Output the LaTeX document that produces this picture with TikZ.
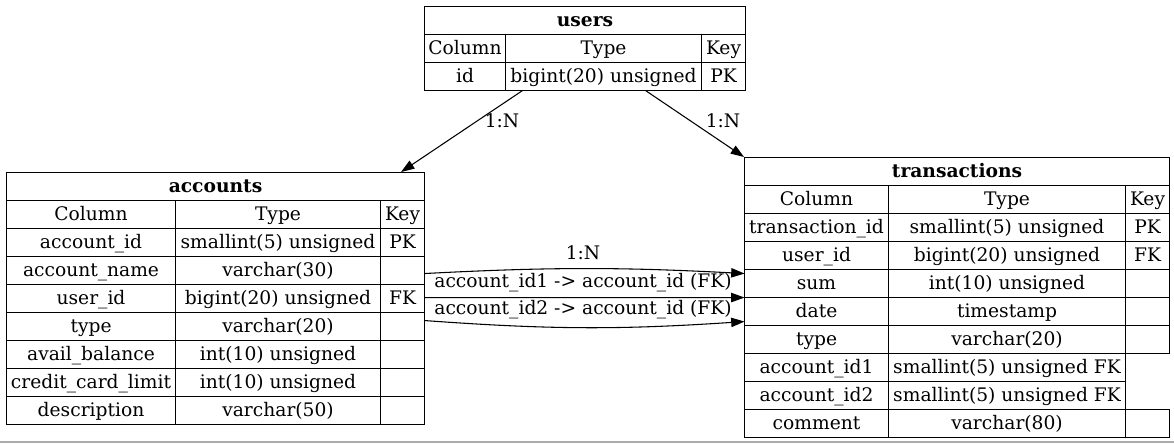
\documentclass[tikz,border=0pt]{standalone}
\usepackage{fontspec}
\setmainfont{DejaVu Serif}
\usetikzlibrary{positioning}
\usetikzlibrary{matrix}
\usetikzlibrary{arrows.meta}
\tikzset{cell/.style = {draw, line width=0.8pt, inner sep=0pt,
                        minimum height=21pt, text height=11.5pt, text depth=2.5pt}}
\tikzset{ttl/.style = {cell, font=\fontsize{14}{16}\selectfont\bfseries}}
\tikzset{tbl/.style = {matrix of nodes, nodes in empty cells, inner sep=0pt,
                       outer sep=0pt, column sep=-0.8pt, row sep=-0.8pt,
                       nodes={cell}}}
\tikzset{rel/.style = {line width=0.8pt, -{Triangle[length=10pt,width=7pt]}}}
\tikzset{col/.style = {nodes={minimum width=#1}}}

\begin{document}
\begin{tikzpicture}[x=0.75pt, y=-0.75pt, font=\fontsize{14}{16}\selectfont]
      \useasboundingbox (0,0) rectangle (1174,443);
      % users
      \node[ttl, anchor=north west, minimum width=240.75pt] (usersT) at (424,6) {users};
      \matrix[tbl, anchor=north west, column 1/.style={col=60.75pt},
              column 2/.style={col=147pt}, column 3/.style={col=33pt}]
        (users) at ([yshift=0.8pt]usersT.south west) {
        Column & Type & Key \\
        id & bigint(20) unsigned & PK \\
      };
      % accounts
      \node[ttl, anchor=north west, minimum width=313.5pt] (acctT) at (6,172) {accounts};
      \matrix[tbl, anchor=north west, column 1/.style={col=126.75pt},
              column 2/.style={col=153.75pt}, column 3/.style={col=33pt}]
        (acct) at ([yshift=0.8pt]acctT.south west) {
        Column & Type & Key \\
        account\_id & smallint(5) unsigned & PK \\
        account\_name & varchar(30) & \\
        user\_id & bigint(20) unsigned & FK \\
        type & varchar(20) & \\
        avail\_balance & int(10) unsigned & \\
        credit\_card\_limit & int(10) unsigned & \\
        description & varchar(50) & \\
      };
      % transactions
      \node[ttl, anchor=north west, minimum width=318.75pt] (trnT) at (744,157) {transactions};
      \matrix[tbl, anchor=north west, column 1/.style={col=108pt},
              column 2/.style={col=177.75pt}, column 3/.style={col=33pt}]
        (trn) at ([yshift=0.8pt]trnT.south west) {
        Column & Type & Key \\
        transaction\_id & smallint(5) unsigned & PK \\
        user\_id & bigint(20) unsigned & FK \\
        sum & int(10) unsigned & \\
        date & timestamp & \\
        type & varchar(20) & \\
        account\_id1 & smallint(5) unsigned FK & |[draw=none]| \\
        account\_id2 & smallint(5) unsigned FK & |[draw=none]| \\
        comment & varchar(80) & \\
      };
      % relations
      \draw[rel] ([xshift=12.75pt]users-2-2.south west) -- ([xshift=-18pt]acctT.north east);
      \draw[rel] ([xshift=105pt]users-2-2.south west) -- (trnT.north west);
      \draw[rel] ([yshift=-2.25pt]acct-3-3.east) to[bend left=3] ([yshift=7.5pt]trn-4-1.west);
      \draw[rel] ([yshift=0.75pt]acct-4-3.east) -- (trn-4-1.south west);
      \draw[rel] ([yshift=4.5pt]acct-5-3.east) to[bend right=4] ([yshift=-7.5pt]trn-5-1.west);
      \node (l1) at (502,121) {1:N};
      \node (l2) at (723,121) {1:N};
      \node (l3) at (583,253) {1:N};
      \node (l4) at (583,283) {account\_id1 -> account\_id (FK)};
      \node (l5) at (583,310) {account\_id2 -> account\_id (FK)};
      \fill[black!33] (0,441) rectangle (1174,443);
    \end{tikzpicture}
\end{document}
